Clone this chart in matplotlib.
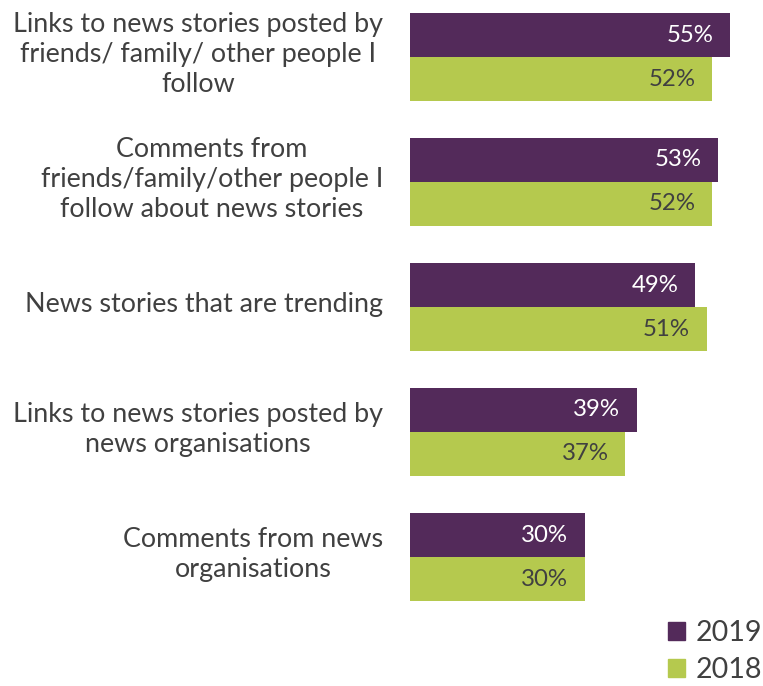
import matplotlib.pyplot as plt

categories = [
    "Links to news stories posted by\nfriends/ family/ other people I\nfollow",
    "Comments from\nfriends/family/other people I\nfollow about news stories",
    "News stories that are trending",
    "Links to news stories posted by\nnews organisations",
    "Comments from news\norganisations",
]
vals_2019 = [55, 53, 49, 39, 30]
vals_2018 = [52, 52, 51, 37, 30]
series_names = ["2019", "2018"]

purple = "#532A5A"
green = "#B5C94E"
txt = "#404040"

plt.rcParams['font.family'] = ['Lato', 'DejaVu Sans']

fig = plt.figure(figsize=(7.63, 6.86), dpi=100)
ax = fig.add_axes([410/763, 0, 349/763, 1])

h = 0.352
pos = list(range(len(categories)))
b1 = ax.barh([p - h/2 for p in pos], vals_2019, height=h, color=purple)
b2 = ax.barh([p + h/2 for p in pos], vals_2018, height=h, color=green)

for bar, v in zip(b1, vals_2019):
    ax.annotate(f"{v}%", (bar.get_width(), bar.get_y() + bar.get_height()/2),
                xytext=(-12, 0), textcoords='offset points', ha='right', va='center',
                color='white', fontsize=17.3)
for bar, v in zip(b2, vals_2018):
    ax.annotate(f"{v}%", (bar.get_width(), bar.get_y() + bar.get_height()/2),
                xytext=(-12, 0), textcoords='offset points', ha='right', va='center',
                color=txt, fontsize=17.3)

for p, c in zip(pos, categories):
    ax.text(-27/5.817, p - 0.02, c, ha='right', va='center', multialignment='center',
            fontsize=19.4, color=txt, linespacing=1.25)

ax.set_xlim(0, 60)
ax.set_ylim(5.032, -0.456)
ax.axis('off')

handles = [plt.Rectangle((0, 0), 1, 1, color=purple), plt.Rectangle((0, 0), 1, 1, color=green)]
fig.legend(handles, series_names, loc='lower right', bbox_to_anchor=(762/763, 3/686),
           frameon=False, fontsize=20.6, labelcolor=txt, handlelength=0.62, handleheight=0.62,
           handletextpad=0.35, labelspacing=0.38, borderpad=0, borderaxespad=0)

plt.savefig("out.png", dpi=100)
